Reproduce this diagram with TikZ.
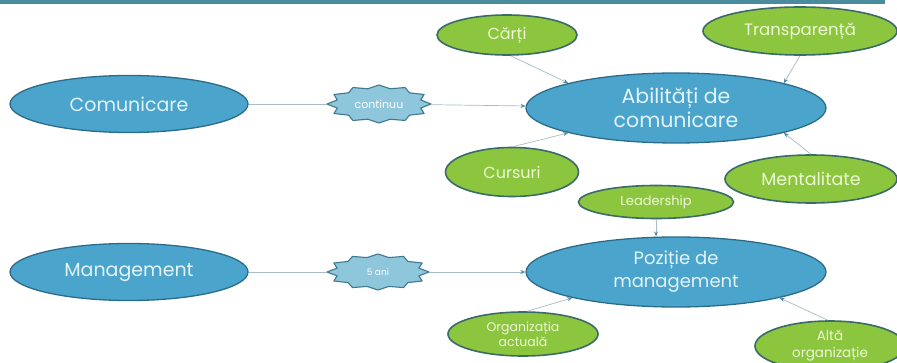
\documentclass[tikz,border=0pt]{standalone}
\usepackage{fontspec}
\setmainfont{Poppins}
\usetikzlibrary{shapes.geometric,arrows.meta}
\definecolor{bluefill}{HTML}{4AA4CC}
\definecolor{blueline}{HTML}{2C6C8A}
\definecolor{bluetext}{HTML}{E2F4FA}
\definecolor{greenfill}{HTML}{8CC63F}
\definecolor{greenline}{HTML}{3A6B68}
\definecolor{greentext}{HTML}{EEF7D6}
\definecolor{sealfill}{HTML}{8EC6DC}
\definecolor{sealline}{HTML}{3F7890}
\definecolor{conncol}{HTML}{A9BBC3}
\definecolor{tipcol}{HTML}{4E8AA6}
\definecolor{barcol}{HTML}{4A8C9E}
\tikzset{
  mainell/.style={ellipse, draw=blueline, line width=1.3pt, fill=bluefill, text=bluetext, inner sep=0pt, align=center},
  greenell/.style={ellipse, draw=greenline, line width=1.6pt, fill=greenfill, text=greentext, inner sep=0pt, align=center},
  sealnode/.style={ellipse, inner sep=0pt, text=white},
  sealsty/.style={draw=sealline, line width=1.1pt, fill=sealfill, line join=round},
  conn/.style={draw=conncol, line width=0.7pt},
  arr/.style={conn, -{Stealth[length=5pt,width=4pt,color=tipcol,fill=tipcol]}},
}
\newcommand\sealpath[4]{%
  \draw[sealsty] plot[samples at={0,15,...,345}, variable=\t]
    ({#1+#3*(1-0.17*mod(round(\t/15),2))*cos(\t)}, {#2+#4*(1-0.17*mod(round(\t/15),2))*sin(\t)}) -- cycle;}
\begin{document}
\begin{tikzpicture}[x=1pt,y=-1pt]
\clip (0,0) rectangle (897,363);
\fill[white] (0,0) rectangle (897,363);
\fill[barcol] (0,0) rectangle (885,4);

% main ellipses
\node[mainell, minimum width=238pt, minimum height=57pt, font=\fontsize{19}{24}\selectfont] (com) at (129,104) {Comunicare};
\node[mainell, minimum width=238pt, minimum height=57pt, font=\fontsize{19}{24}\selectfont] (man) at (129,272) {Management};
\node[mainell, minimum width=300pt, minimum height=70pt, font=\fontsize{20.5}{24}\selectfont] (abil) at (676,108) {Abilități de\\comunicare};
\node[mainell, minimum width=300pt, minimum height=70pt, font=\fontsize{18}{23}\selectfont] (poz) at (676,272) {Poziție de\\management};

% seals
\sealpath{379}{104}{52}{19}
\node[sealnode, minimum width=104pt, minimum height=38pt, font=\fontsize{11}{12}\selectfont] (cont) at (379,104) {continuu};
\sealpath{378}{272}{51}{18}
\node[sealnode, minimum width=102pt, minimum height=36pt, font=\fontsize{9}{10}\selectfont] (ani) at (378,272) {5 ani};

% green ellipses
\node[greenell, minimum width=140pt, minimum height=40pt, font=\fontsize{16}{18}\selectfont] (carti) at (507,35) {Cărți};
\node[greenell, minimum width=194pt, minimum height=48pt, font=\fontsize{16.5}{18}\selectfont] (transp) at (800,31) {Transparență};
\node[greenell, minimum width=133pt, minimum height=49pt, font=\fontsize{16}{18}\selectfont] (curs) at (512,172) {Cursuri};
\node[greenell, minimum width=172pt, minimum height=48pt, font=\fontsize{17.5}{19}\selectfont] (ment) at (811,179) {Mentalitate};
\node[greenell, minimum width=155pt, minimum height=33pt, font=\fontsize{13}{14}\selectfont] (lead) at (656,202) {Leadership};
\node[greenell, minimum width=150pt, minimum height=44pt, font=\fontsize{12.5}{15}\selectfont] (orga) at (523,334) {Organizația\\actuală};
\node[greenell, minimum width=150pt, minimum height=50pt, font=\fontsize{13.5}{17}\selectfont] (alta) at (830,346) {Altă\\organizație};

% connectors
\draw[conn] (com) -- (cont);
\draw[arr] (cont) -- (abil);
\draw[conn] (man) -- (ani);
\draw[arr] (ani) -- (poz);
\draw[arr] (carti.-80) -- (abil.167);
\draw[arr] (transp.-90) -- (abil.13);
\draw[arr] (curs.88) -- (abil.193);
\draw[arr] (ment.90) -- (abil.-13);
\draw[arr] (lead) -- (lead |- poz.north);
\draw[arr] (orga.80) -- (poz.194);
\draw[arr] (alta.95) -- (poz.-14);
\end{tikzpicture}
\end{document}
